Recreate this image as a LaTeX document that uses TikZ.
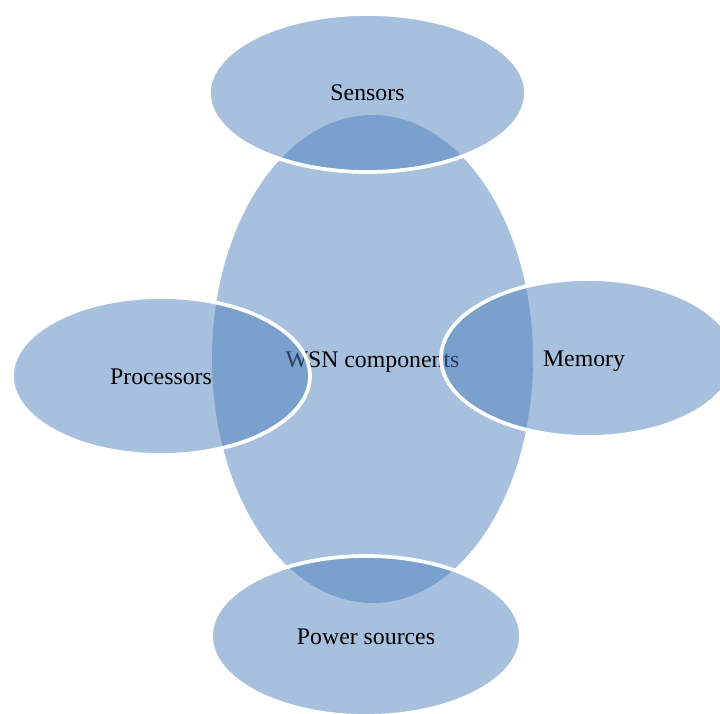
\documentclass[tikz,border=0pt]{standalone}
\usepackage{fontspec}
\setmainfont{Liberation Serif}
\usetikzlibrary{shapes.geometric}
\definecolor{wsnblue}{RGB}{79,129,189}
\begin{document}
\begin{tikzpicture}[x=0.75pt,y=-0.75pt]
    \tikzset{
    part/.style={ellipse,inner sep=0pt,fill=wsnblue,fill opacity=0.5,text opacity=1,text height=14pt,text depth=2pt,font=\fontsize{17.85}{20}\selectfont},
    hub/.style={part,minimum width=240.75pt,minimum height=366pt},
    leaf/.style={part,draw=white,line width=2.8pt,minimum height=118.5pt},
    }
    \useasboundingbox (0,0) rectangle (720,713);
    \node[hub] (wsn) at (372.5,359) {WSN components};
    \node[leaf,minimum width=237.75pt] (sens) at (367.5,93) {Sensors};
    \node[leaf,minimum width=223.5pt] (proc) at (161,376) {Processors};
    \node[leaf,minimum width=220.5pt] (mem) at (588,358) {\hspace*{-6pt}Memory};
    \node[leaf,minimum width=232.5pt,minimum height=120pt] (pow) at (366,636) {Power sources};
\end{tikzpicture}
\end{document}
